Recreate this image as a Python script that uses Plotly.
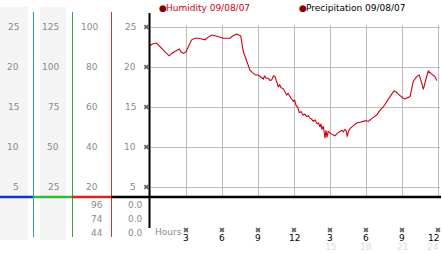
import plotly.graph_objects as go

W, H = 442, 253

# ---------------- data ----------------
hours = [0.0, 0.25, 0.55, 0.83, 1.05, 1.25, 1.45, 1.6, 1.8, 1.94, 2.17, 2.44, 2.58, 2.78, 3.0,
         3.25, 3.47, 3.75, 4.0, 4.31, 4.58, 4.83, 5.14, 5.42, 5.69, 6.11, 6.67, 6.92, 7.22, 7.56,
         7.78, 8.06, 8.33, 8.61, 8.8, 9.03, 9.25, 9.44, 9.55, 9.67, 9.86, 10.0, 10.14, 10.3, 10.42,
         10.55, 10.69, 10.8, 10.92, 11.1, 11.25, 11.39, 11.5, 11.67, 11.8, 11.94, 12.05, 12.17, 12.3,
         12.44, 12.6, 12.75, 12.9, 13.06, 13.2, 13.33, 13.45, 13.61, 13.75, 13.92, 14.05, 14.17, 14.25,
         14.33, 14.45, 14.58, 14.67, 14.75, 14.85, 15.0, 15.2, 15.42, 15.6, 15.83, 16.0, 16.1, 16.25,
         16.35, 16.44, 16.55, 16.67, 16.9, 17.22, 17.5, 17.78, 18.0, 18.2, 18.33, 18.6, 18.89, 19.17,
         19.44, 19.72, 20.0, 20.33, 20.5, 20.69, 20.9, 21.1, 21.25, 21.53, 21.67, 21.8, 21.94, 22.22,
         22.44, 22.6, 22.78, 23.0, 23.19, 23.4, 23.56, 23.75, 23.89]
humidity = [22.7, 22.9, 23.0, 22.5, 22.2, 21.9, 21.6, 21.4, 21.7, 21.8, 22.0, 22.25, 21.9, 21.7, 21.9,
            22.8, 23.4, 23.6, 23.6, 23.5, 23.4, 23.7, 24.0, 23.9, 23.8, 23.6, 23.6, 23.9, 24.1, 23.9,
            21.9, 20.7, 19.6, 19.2, 19.0, 19.0, 18.7, 18.5, 18.9, 18.6, 18.6, 18.3, 18.4, 18.9, 18.8,
            18.2, 17.5, 17.8, 17.4, 17.3, 16.8, 16.5, 16.7, 16.2, 16.0, 15.7, 15.9, 15.2, 15.0,
            14.3, 14.4, 14.0, 14.1, 13.8, 13.9, 13.6, 13.5, 13.2, 13.4, 12.9, 13.0, 12.5, 12.9,
            12.2, 12.6, 11.1, 12.1, 11.2, 12.0, 11.7, 11.6, 11.4, 11.7, 11.9, 12.1, 11.9, 12.2,
            12.0, 11.3, 12.0, 12.3, 12.6, 13.0, 13.1, 13.2, 13.3, 13.2, 13.4, 13.7, 14.0, 14.6,
            15.0, 15.7, 16.3, 17.0, 16.9, 16.6, 16.3, 16.1, 16.0, 16.2, 16.3, 17.2, 18.2, 18.8,
            19.0, 18.2, 17.2, 18.5, 19.5, 19.2, 19.0, 18.8, 18.3]

x_ticks = [3, 6, 9, 12, 15, 18, 21, 24]
x_tick_text = ["3", "6", "9", "12", "3", "6", "9", "12"]
x_tick_24h = ["", "", "", "", "15", "18", "21", "24"]
y_ticks = [25, 20, 15, 10, 5]
col1_labels = ["25", "20", "15", "10", "5"]
col2_labels = ["125", "100", "75", "50", "25"]
col2_values = [125, 100, 75, 50, 25]
col3_labels = ["100", "80", "60", "40", "20"]
col3_values = [100, 80, 60, 40, 20]
col4_labels = ["25", "20", "15", "10", "5"]
col3_table = ["96", "74", "44"]
col4_table = ["0.0", "0.0", "0.0"]
legend_labels = ["Humidity 09/08/07", "Precipitation 09/08/07"]
hours_label = "Hours"

# plot geometry (pixels)
X0_PX, PX_PER_HOUR = 150, 12
Y0_PX, PX_PER_UNIT = 227, 8


def px(x):
    return x / W


def py(y):
    return 1 - y / H


FONT = "DejaVu Sans"
GRAY = "#8a8a8a"

fig = go.Figure()
fig.add_trace(go.Scatter(x=hours, y=humidity, mode="lines",
                         line=dict(color="#cc0011", width=1.1), hoverinfo="skip",
                         showlegend=False))
# tick markers on a full-figure pixel axis
fig.add_trace(go.Scatter(x=[X0_PX + PX_PER_HOUR * h for h in x_ticks], y=[230] * len(x_ticks),
                         xaxis="x2", yaxis="y2", mode="markers",
                         marker=dict(symbol="x", size=4.5, color="#666"),
                         showlegend=False, hoverinfo="skip"))
fig.add_trace(go.Scatter(x=[146.3] * len(y_ticks), y=[Y0_PX - PX_PER_UNIT * v for v in y_ticks],
                         xaxis="x2", yaxis="y2", mode="markers",
                         marker=dict(symbol="x", size=4.5, color="#666"),
                         showlegend=False, hoverinfo="skip"))

shapes = []
# grey bands
for x0, x1 in [(0, 28), (40, 66)]:
    shapes.append(dict(type="rect", xref="paper", yref="paper", x0=px(x0), x1=px(x1),
                       y0=py(240), y1=py(7), fillcolor="#f4f4f4", line=dict(width=0),
                       layer="below"))
# vertical coloured lines
for xv, col in [(33, "#3399cc"), (72, "#33aa33"), (111, "#cc3333")]:
    shapes.append(dict(type="line", xref="paper", yref="paper", x0=px(xv + 0.5), x1=px(xv + 0.5),
                       y0=py(12), y1=py(237), line=dict(color=col, width=1)))
# horizontal coloured base line
for x0, x1, col in [(0, 33, "#1133cc"), (33, 72, "#33bb33"), (72, 111, "#dd2222"),
                    (111, 441, "#000000")]:
    shapes.append(dict(type="line", xref="paper", yref="paper", x0=px(x0), x1=px(x1),
                       y0=py(197), y1=py(197), line=dict(color=col, width=2.5)))
# left axis line
shapes.append(dict(type="line", xref="paper", yref="paper", x0=px(149.5), x1=px(149.5),
                   y0=py(13), y1=py(228), line=dict(color="#000", width=2)))

ann = []


def label(text, x, y, xref="paper", yref="paper", anchor="right", color=GRAY, size=9):
    ann.append(dict(text=text, x=x, y=y, xref=xref, yref=yref, xanchor=anchor,
                    yanchor="middle", showarrow=False,
                    font=dict(family=FONT, size=size, color=color)))


for v, t in zip(y_ticks, col1_labels):
    label(t, px(20.5), v, yref="y")
for v, t in zip(col2_values, col2_labels):
    label(t, px(60.5), v / 5, yref="y")
for v, t in zip(col3_values, col3_labels):
    label(t, px(100), v / 4, yref="y")
for v, t in zip(y_ticks, col4_labels):
    label(t, px(138), v, yref="y")
for yy, t in zip([205, 219, 233], col3_table):
    label(t, px(105), py(yy))
for yy, t in zip([205, 219, 233], col4_table):
    label(t, px(144.5), py(yy))

for i, (v, t) in enumerate(zip(x_ticks, x_tick_text)):
    if i == len(x_ticks) - 1:
        label(t, px(441), py(238), anchor="right", color="#000")
    else:
        label(t, v, py(238), xref="x", anchor="center", color="#000")
for i, (v, t) in enumerate(zip(x_ticks, x_tick_24h)):
    if not t:
        continue
    if i == len(x_ticks) - 1:
        label(t, px(441), py(246.5), anchor="right", color="#dcdcdc")
    else:
        label(t, v, py(246.5), xref="x", anchor="center", color="#dcdcdc")
label(hours_label, px(153), py(231.5), anchor="left", color=GRAY)

# legend
label("●", px(157), py(7.5), anchor="left", color="#880000", size=9)
label(legend_labels[0], px(164), py(7.5), anchor="left", color="#cc0011", size=9)
label("●", px(297), py(7.5), anchor="left", color="#880000", size=9)
label(legend_labels[1], px(304), py(7.5), anchor="left", color="#000", size=9)

fig.update_layout(
    width=W, height=H, margin=dict(l=0, r=0, t=0, b=0),
    paper_bgcolor="white", plot_bgcolor="rgba(0,0,0,0)",
    shapes=shapes, annotations=ann, showlegend=False,
    xaxis=dict(domain=[px(150), px(440)], range=[0, 290 / 12], tickvals=x_ticks,
               showticklabels=False, ticks="", showgrid=True, gridcolor="#bdbdbd",
               gridwidth=1, zeroline=False, showline=False, fixedrange=True),
    yaxis=dict(domain=[py(197), py(25)], range=[3.75, 25.25], tickvals=y_ticks,
               showticklabels=False, ticks="", showgrid=True, gridcolor="#bdbdbd",
               gridwidth=1, zeroline=False, showline=False, fixedrange=True),
    xaxis2=dict(domain=[0, 1], range=[0, W], visible=False, fixedrange=True, anchor="y2"),
    yaxis2=dict(domain=[0, 1], range=[H, 0], visible=False, fixedrange=True, anchor="x2"),
)

fig.write_html("out.html")
